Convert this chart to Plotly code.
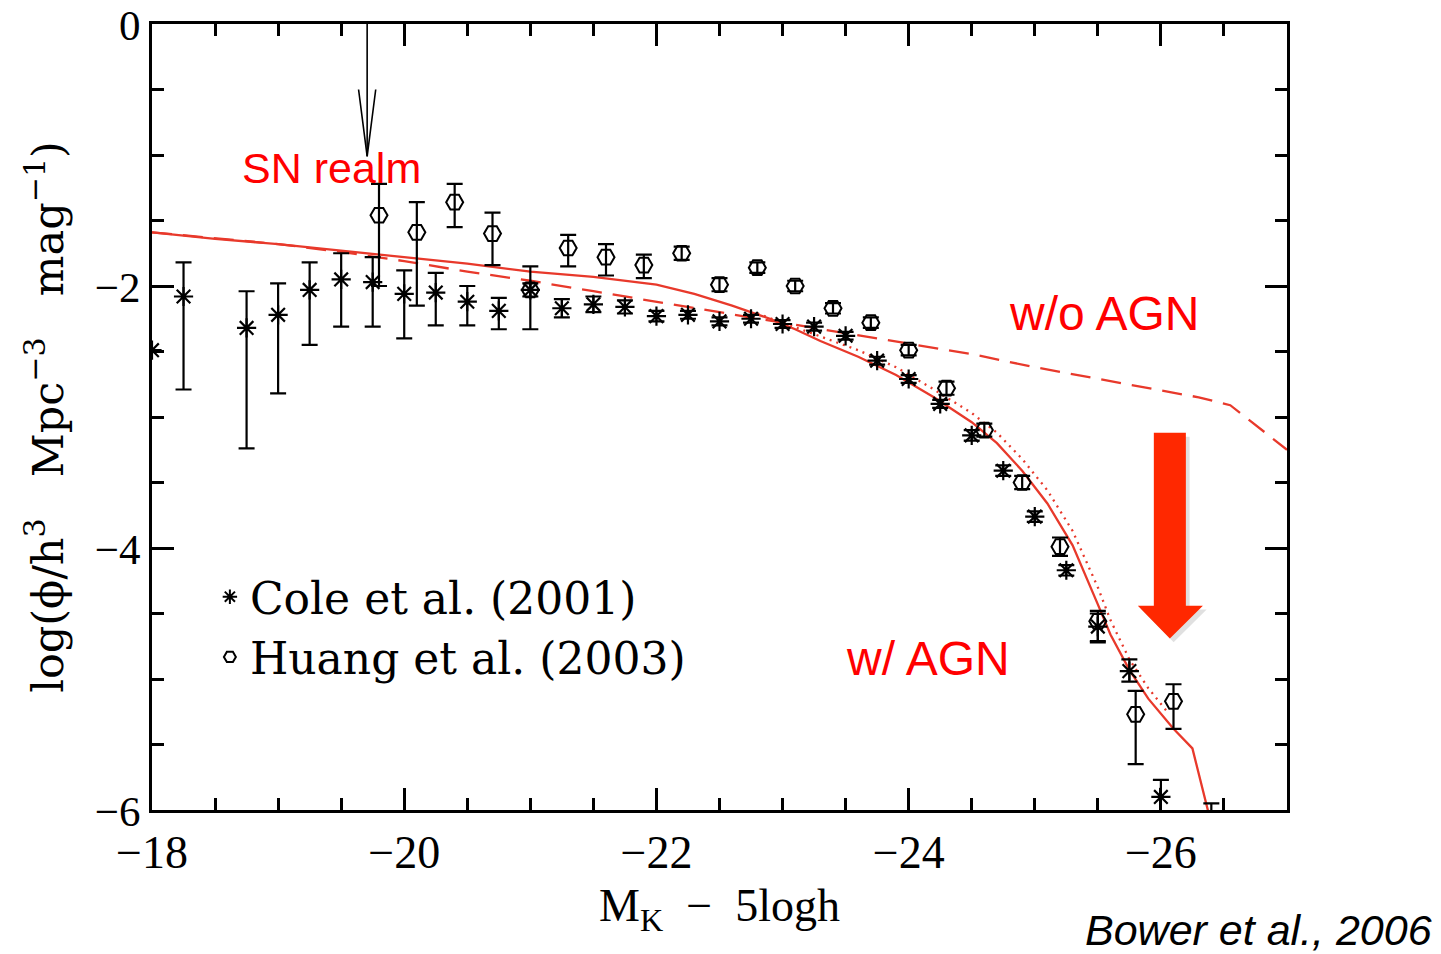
import plotly.graph_objects as go

# ---------------- data ----------------
cole_x = [-18.0, -18.25, -18.75, -19.0, -19.25, -19.5, -19.75, -20.0, -20.25, -20.5, -20.75,
          -21.0, -21.25, -21.5, -21.75, -22.0, -22.25, -22.5, -22.75, -23.0, -23.25, -23.5,
          -23.75, -24.0, -24.25, -24.5, -24.75, -25.0, -25.25, -25.5, -25.75, -26.0, -26.4]
cole_y = [-2.49, -2.08, -2.32, -2.22, -2.03, -1.95, -1.97, -2.06, -2.05, -2.12, -2.19,
          -2.03, -2.17, -2.14, -2.16, -2.23, -2.22, -2.27, -2.25, -2.29, -2.31, -2.38,
          -2.57, -2.71, -2.90, -3.14, -3.41, -3.76, -4.17, -4.60, -4.94, -5.90, -6.15]
cole_ep = [0.0, 0.26, 0.28, 0.24, 0.21, 0.20, 0.19, 0.18, 0.15, 0.12, 0.10,
           0.18, 0.07, 0.06, 0.05, 0.04, 0.03, 0.03, 0.03, 0.03, 0.03, 0.03,
           0.03, 0.03, 0.03, 0.04, 0.04, 0.04, 0.04, 0.10, 0.09, 0.13, 0.20]
cole_em = [0.0, 0.71, 0.92, 0.60, 0.42, 0.36, 0.34, 0.34, 0.25, 0.18, 0.14,
           0.30, 0.07, 0.06, 0.05, 0.04, 0.03, 0.03, 0.03, 0.03, 0.03, 0.03,
           0.03, 0.03, 0.03, 0.04, 0.04, 0.04, 0.04, 0.12, 0.08, 0.40, 0.20]

huang_x = [-19.8, -20.1, -20.4, -20.7, -21.0, -21.3, -21.6, -21.9, -22.2, -22.5, -22.8,
           -23.1, -23.4, -23.7, -24.0, -24.3, -24.6, -24.9, -25.2, -25.5, -25.8, -26.1]
huang_y = [-1.46, -1.59, -1.36, -1.60, -2.03, -1.71, -1.78, -1.84, -1.75, -1.99, -1.86,
           -2.00, -2.17, -2.28, -2.49, -2.78, -3.10, -3.50, -3.99, -4.56, -5.27, -5.17]
huang_ep = [0.24, 0.23, 0.14, 0.16, 0.05, 0.10, 0.10, 0.08, 0.05, 0.05, 0.04,
            0.04, 0.04, 0.04, 0.04, 0.05, 0.05, 0.05, 0.07, 0.08, 0.18, 0.13]
huang_em = [0.54, 0.56, 0.19, 0.24, 0.05, 0.14, 0.14, 0.10, 0.05, 0.05, 0.04,
            0.04, 0.04, 0.04, 0.04, 0.05, 0.05, 0.05, 0.07, 0.15, 0.38, 0.21]

agn_x = [-18.0, -18.5, -19.0, -19.5, -20.0, -20.5, -21.0, -21.5, -22.0, -22.3, -22.6, -22.9,
         -23.1, -23.3, -23.6, -23.9, -24.2, -24.5, -24.7, -24.9, -25.1, -25.3, -25.5, -25.6,
         -25.75, -25.9, -26.1, -26.25, -26.45]
agn_y = [-1.59, -1.64, -1.68, -1.73, -1.78, -1.83, -1.89, -1.93, -1.99, -2.06, -2.15, -2.25,
         -2.33, -2.42, -2.54, -2.68, -2.85, -3.04, -3.20, -3.41, -3.66, -3.98, -4.43, -4.66,
         -4.93, -5.15, -5.38, -5.53, -6.30]

alt_x = [-22.8, -23.0, -23.3, -23.6, -23.9, -24.2, -24.5, -24.7, -24.9, -25.1, -25.3, -25.5,
         -25.6, -25.75, -25.9, -26.05]
alt_y = [-2.21, -2.28, -2.38, -2.49, -2.62, -2.79, -2.97, -3.12, -3.32, -3.56, -3.87, -4.30,
         -4.55, -4.85, -5.07, -5.25]

noagn_x = [-18.0, -19.0, -19.5, -20.0, -20.5, -21.0, -21.5, -22.0, -22.5, -23.0, -23.5, -24.0,
           -24.5, -25.0, -25.5, -26.0, -26.3, -26.55, -26.75, -27.0]
noagn_y = [-1.59, -1.68, -1.74, -1.81, -1.89, -1.96, -2.04, -2.12, -2.20, -2.28, -2.36, -2.44,
           -2.52, -2.62, -2.71, -2.80, -2.85, -2.91, -3.06, -3.25]

x_ticks = [-18, -20, -22, -24, -26]
y_ticks = [0, -2, -4, -6]

# annotation geometry (data units)
SN_X, SN_TOP, SN_TIP, SN_HEAD, SN_HW = -19.706, 0.0, -1.01, -0.50, 0.068
BIG_L, BIG_R, BIG_TOP, BIG_BASE, BIG_HL, BIG_HR, BIG_TIPX, BIG_TIPY = \
    -25.944, -26.198, -3.12, -4.44, -25.817, -26.333, -26.071, -4.69

RED = "#E8392B"
SERIF = "Liberation Serif"
WIDE_SERIF = "DejaVu Serif"
SANS = "Liberation Sans"

fig = go.Figure()

fig.add_trace(go.Scatter(x=noagn_x, y=noagn_y, mode="lines", showlegend=False,
                         line=dict(color=RED, width=2.3, dash="20px,11px")))
fig.add_trace(go.Scatter(x=alt_x, y=alt_y, mode="lines", showlegend=False,
                         line=dict(color=RED, width=2.3, dash="2px,5px")))
fig.add_trace(go.Scatter(x=agn_x, y=agn_y, mode="lines", showlegend=False,
                         line=dict(color=RED, width=2.3)))

fig.add_trace(go.Scatter(
    x=cole_x, y=cole_y, mode="markers", name="Cole et al. (2001)",
    marker=dict(symbol="asterisk-open", size=16, color="black", line=dict(color="black", width=2.2)),
    error_y=dict(type="data", symmetric=False, array=cole_ep, arrayminus=cole_em,
                 color="black", thickness=2.2, width=8)))
fig.add_trace(go.Scatter(
    x=huang_x, y=huang_y, mode="markers", name="Huang et al. (2003)",
    marker=dict(symbol="hexagon2-open", size=17, color="black", line=dict(color="black", width=2)),
    error_y=dict(type="data", symmetric=False, array=huang_ep, arrayminus=huang_em,
                 color="black", thickness=2.2, width=8)))

shapes = []
# SN realm arrow (open V head)
shapes.append(dict(type="line", xref="x", yref="y", x0=SN_X, x1=SN_X, y0=SN_TOP, y1=SN_TIP,
                   line=dict(color="black", width=1.6)))
shapes.append(dict(type="path", xref="x", yref="y",
                   path=f"M {SN_X + SN_HW},{SN_HEAD} L {SN_X},{SN_TIP} L {SN_X - SN_HW},{SN_HEAD}",
                   line=dict(color="black", width=1.6)))

# big red arrow with soft shadow
def arrow_path(dx=0.0, dy=0.0):
    pts = [(BIG_L, BIG_TOP), (BIG_R, BIG_TOP), (BIG_R, BIG_BASE), (BIG_HR, BIG_BASE),
           (BIG_TIPX, BIG_TIPY), (BIG_HL, BIG_BASE), (BIG_L, BIG_BASE)]
    return "M " + " L ".join(f"{x + dx},{y + dy}" for x, y in pts) + " Z"

shapes.append(dict(type="path", xref="x", yref="y", path=arrow_path(-0.03, -0.03),
                   fillcolor="rgba(0,0,0,0.12)", line=dict(width=0), layer="below"))
shapes.append(dict(type="path", xref="x", yref="y", path=arrow_path(),
                   fillcolor="#FF2800", line=dict(width=0)))

annotations = [
    dict(x=-19.42, y=-1.10, xref="x", yref="y", text="SN realm", showarrow=False,
         font=dict(family=SANS, size=43, color="#FF0000")),
    dict(x=-25.55, y=-2.21, xref="x", yref="y", text="w/o AGN", showarrow=False,
         font=dict(family=SANS, size=48, color="#FF0000")),
    dict(x=-24.15, y=-4.84, xref="x", yref="y", text="w/ AGN", showarrow=False,
         font=dict(family=SANS, size=48, color="#FF0000")),
    dict(x=0.975, y=-0.153, xref="paper", yref="paper", xanchor="center", yanchor="middle",
         text="<i>Bower et al., 2006</i>",
         showarrow=False, font=dict(family=SANS, size=43, color="black")),
]

axis_common = dict(showgrid=False, zeroline=False, showline=True, linecolor="black", linewidth=3,
                   mirror="ticks", ticks="inside", tickwidth=2.5, ticklen=22, tickcolor="black",
                   ticklabeloverflow="allow", automargin=False)

fig.update_layout(
    width=1441, height=954,
    margin=dict(l=152, r=154, t=24, b=144),
    paper_bgcolor="white", plot_bgcolor="white",
    font=dict(color="black"),
    shapes=shapes, annotations=annotations,
    showlegend=True,
    legend=dict(x=0.051, y=0.316, xanchor="left", yanchor="top", bgcolor="rgba(0,0,0,0)",
                font=dict(family=WIDE_SERIF, size=44, color="black"), itemsizing="constant",
                tracegroupgap=0),
    xaxis=dict(range=[-18, -27], tickvals=x_ticks, ticktext=[f"\u2212{abs(v)}" for v in x_ticks],
               tickfont=dict(family=SERIF, size=46, color="black"),
               minor=dict(ticks="inside", dtick=0.5, ticklen=12, tickwidth=2.5, tickcolor="black"),
               title=dict(text="M<sub>K</sub>  \u2212  5logh",
                          font=dict(family=SERIF, size=46, color="black"), standoff=12),
               **axis_common),
    yaxis=dict(range=[-6, 0], tickvals=y_ticks,
               ticktext=["0" if v == 0 else f"\u2212{abs(v)}" for v in y_ticks],
               tickfont=dict(family=SERIF, size=43, color="black"),
               ticklabelshift=1,
               minor=dict(ticks="inside", dtick=0.5, ticklen=12, tickwidth=2.5, tickcolor="black"),
               title=dict(text="log(\u03d5/h<sup>3</sup>   Mpc<sup>\u22123</sup>   mag<sup>\u22121</sup>)",
                          font=dict(family=WIDE_SERIF, size=43, color="black"), standoff=18),
               **axis_common),
)

fig.write_html("out.html")
